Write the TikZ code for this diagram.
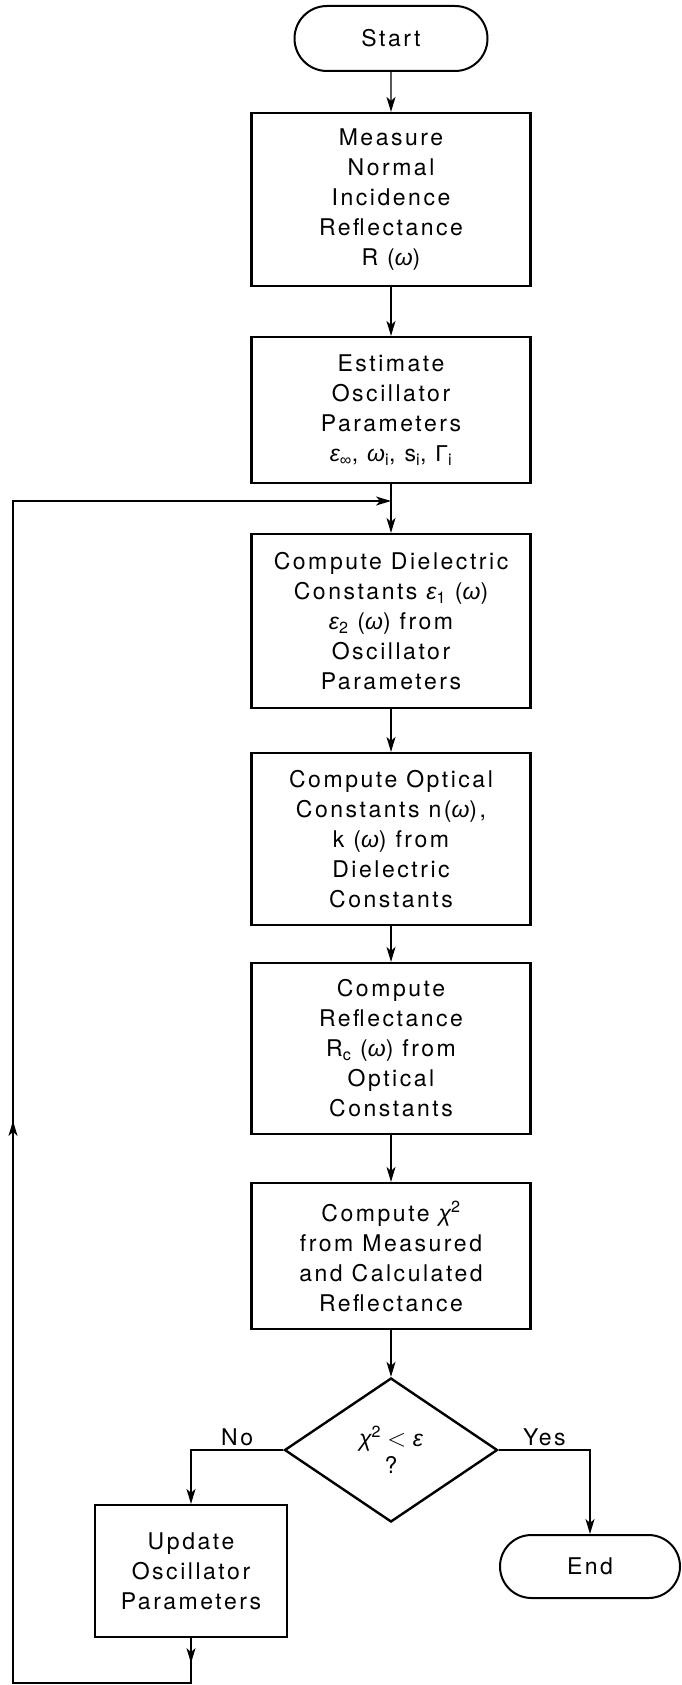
\documentclass[tikz,border=0pt]{standalone}
\usepackage{fontspec}
\setmainfont{TeX Gyre Heros}[LetterSpace=11]
\newfontfamily\gkfont{Liberation Sans}
\newcommand\myomega{{\gkfont\itshape ω}}
\newcommand\myeps{{\gkfont\itshape ε}}
\newcommand\mychi{{\gkfont\itshape χ}}
\newcommand\myGamma{{\gkfont Γ}}
\newcommand\myinf{{\gkfont ∞}}
\usetikzlibrary{shapes.misc,shapes.geometric,arrows.meta,decorations.markings}
\begin{document}
\begin{tikzpicture}[x=1pt,y=1pt,
  every node/.style={font=\fontsize{23}{30}\selectfont},
  box/.style={draw, line width=2.2pt, minimum width=279pt, align=center, inner sep=0pt},
  term/.style={draw, rounded rectangle, line width=2pt, inner sep=0pt},
  decision/.style={draw, diamond, line width=2.4pt, inner sep=0pt, align=center, font=\fontsize{23}{27}\selectfont},
  tip/.style={-{Stealth[length=15pt,width=9pt,inset=4pt]}},
  arr/.style={line width=1.2pt, tip},
  lbl/.style={font=\fontsize{23}{26}\selectfont}]
\useasboundingbox (0,0) rectangle (682,-1685);

\node[term, minimum width=193pt, minimum height=65pt] (start) at (391,-38.5) {Start};
\node[box, minimum height=173pt] (measure) at (391,-199.5) {Measure\\Normal\\Incidence\\Reflectance\\R (\myomega)};
\node[box, minimum height=146pt] (estimate) at (391,-410) {Estimate\\Oscillator\\Parameters\\\myeps\textsubscript{\myinf}, \myomega\textsubscript{i}, s\textsubscript{i}, \myGamma\textsubscript{i}};
\node[box, minimum height=174pt] (dielectric) at (391,-621) {Compute Dielectric\\Constants \myeps\textsubscript{1} (\myomega)\\\myeps\textsubscript{2} (\myomega) from\\Oscillator\\Parameters};
\node[box, minimum height=172pt] (optical) at (391,-839) {Compute Optical\\Constants n(\myomega),\\k (\myomega) from\\Dielectric\\Constants};
\node[box, minimum height=171pt] (reflect) at (391,-1048.5) {Compute\\Reflectance\\R\textsubscript{c} (\myomega) from\\Optical\\Constants};
\node[box, minimum height=146pt] (chi) at (391,-1256) {Compute \mychi\textsuperscript{2}\\from Measured\\and Calculated\\Reflectance};
\node[decision, minimum width=213pt, minimum height=144pt] (q) at (391,-1450) {\mychi\textsuperscript{2}\;{\fontsize{28}{28}\selectfont$<$}\;\myeps\\?};
\node[box, minimum width=192pt, minimum height=132pt] (update) at (191,-1571) {Update\\Oscillator\\Parameters};
\node[term, minimum width=180pt, minimum height=63pt] (end) at (590,-1566.5) {End};

\coordinate (lb) at (191,-1683);
\coordinate (ll) at (13,-1683);
\coordinate (lt) at (13,-501);
\coordinate (jn) at (391,-501);

\draw[arr] (start) -- (measure);
\draw[arr] (measure) -- (estimate);
\draw[arr] (estimate) -- (dielectric);
\draw[arr] (dielectric) -- (optical);
\draw[arr] (optical) -- (reflect);
\draw[arr] (reflect) -- (chi);
\draw[arr] (chi) -- (q);
\draw[arr] (q.west) -| node[above, pos=0.25, lbl] {No} (update.north);
\draw[arr] (q.east) -| node[above, pos=0.25, lbl] {Yes} (end.north);
\draw[arr, decoration={markings,
    mark=at position 25pt with {\arrow{Stealth[length=15pt,width=9pt,inset=4pt]}},
    mark=at position 785pt with {\arrow{Stealth[length=15pt,width=9pt,inset=4pt]}}},
    postaction={decorate}]
  (update.south) -- (lb) -- (ll) -- (lt) -- (jn);
\end{tikzpicture}
\end{document}
